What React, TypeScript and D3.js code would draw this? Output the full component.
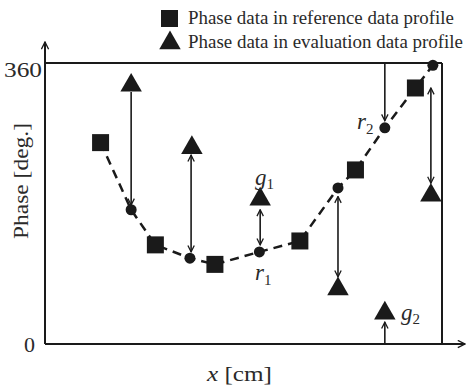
import * as d3 from "d3";
import React from "react";

// reference data profile (squares)
const refX = [1.4, 2.78, 4.28, 6.42, 7.82, 9.33];
const refPhase = [258, 127, 102, 132, 223, 328];
// interpolated points on the reference profile (circles)
const interpX = [2.17, 3.65, 5.4, 7.38, 8.56, 9.77];
const interpPhase = [172, 110, 118, 200, 277, 357];
// evaluation data profile (triangles)
const evalX = [2.17, 3.7, 5.42, 7.38, 8.56, 9.72];
const evalPhase = [334, 254, 188, 73, 42, 193];

// distance arrows: x, phase from, phase to, heads
const arrowX = [2.17, 3.68, 5.42, 7.38, 8.56, 8.56, 9.72];
const arrowFrom = [323, 242, 172, 189, 360, 0, 328];
const arrowTo = [178, 118, 127, 86, 286, 28, 206];
const arrowBoth = [false, true, true, true, false, false, true];

const legendLabels = ["Phase data in reference data profile", "Phase data in evaluation data profile"];
const legendWidths = [266, 275];

const W = 467;
const H = 387;
const margin = { top: 63, right: 25, bottom: 43, left: 45 };

const App: React.FC = () => {
  const x = d3.scaleLinear().domain([0, 10]).range([margin.left, W - margin.right]);
  const y = d3.scaleLinear().domain([0, 360]).range([H - margin.bottom, margin.top]);

  const merged = [
    ...refX.map((v, i) => ({ x: v, p: refPhase[i] })),
    ...interpX.map((v, i) => ({ x: v, p: interpPhase[i] })),
  ].sort((a, b) => a.x - b.x);

  const line = d3
    .line<{ x: number; p: number }>()
    .x((d) => x(d.x))
    .y((d) => y(d.p));

  const tri = d3.symbol().type(d3.symbolTriangle).size(200)();
  const x0 = x(0);
  const x1 = x(10);
  const y0 = y(0);
  const y1 = y(360);
  const font = "'Liberation Serif', 'Times New Roman', serif";
  const ink = "#1a1a1a";
  const txt = "#2a2a2a";

  return (
    <svg width={W} height={H} style={{ position: "absolute", left: 0, top: 0, background: "#fff" }} fontFamily={font}>
      <defs>
        <marker id="ah" viewBox="0 0 10 10" refX="9" refY="5" markerWidth="8" markerHeight="8" orient="auto-start-reverse" markerUnits="userSpaceOnUse">
          <path d="M1,1 L9,5 L1,9" fill="none" stroke={ink} strokeWidth="1.6" />
        </marker>
        <marker id="axh" viewBox="0 0 10 10" refX="9" refY="5" markerWidth="9" markerHeight="9" orient="auto" markerUnits="userSpaceOnUse">
          <path d="M1,1 L9,5 L1,9" fill="none" stroke={ink} strokeWidth="1.5" />
        </marker>
      </defs>

      {/* axes and frame */}
      <line x1={x0} y1={y0} x2={x0} y2={42} stroke={ink} strokeWidth={2} markerEnd="url(#axh)" />
      <line x1={x0} y1={y0} x2={465} y2={y0} stroke={ink} strokeWidth={2} markerEnd="url(#axh)" />
      <line x1={x0} y1={y1} x2={x1} y2={y1} stroke={ink} strokeWidth={2} />
      <line x1={x1} y1={y1} x2={x1} y2={y0} stroke={ink} strokeWidth={2} />

      <text x={42} y={y1 + 14} textAnchor="end" fontSize={22} textLength={38} lengthAdjust="spacingAndGlyphs" fill={txt}>360</text>
      <text x={35} y={y0 + 8} textAnchor="end" fontSize={22} fill={txt}>0</text>
      <text transform={`translate(28, 181) rotate(-90)`} textAnchor="middle" fontSize={21} textLength={116} lengthAdjust="spacingAndGlyphs" fill={txt}>
        Phase [deg.]
      </text>
      <text x={239.5} y={381} textAnchor="middle" fontSize={22} textLength={65} lengthAdjust="spacingAndGlyphs" fill={txt}>
        <tspan fontStyle="italic">x</tspan> [cm]
      </text>

      {/* dashed reference profile */}
      <path d={line(merged) ?? ""} fill="none" stroke={ink} strokeWidth={2.5} strokeDasharray="9,6" />

      {/* arrows */}
      {arrowX.map((v, i) => (
        <line
          key={`a${i}`}
          x1={x(v)}
          y1={y(arrowFrom[i])}
          x2={x(v)}
          y2={y(arrowTo[i])}
          stroke={ink}
          strokeWidth={1.6}
          markerEnd="url(#ah)"
          markerStart={arrowBoth[i] ? "url(#ah)" : undefined}
        />
      ))}

      {refX.map((v, i) => (
        <rect key={`s${i}`} x={x(v) - 8.5} y={y(refPhase[i]) - 8.5} width={17} height={17} fill={ink} />
      ))}
      {interpX.map((v, i) => (
        <circle key={`c${i}`} cx={x(v)} cy={y(interpPhase[i])} r={5.5} fill={ink} />
      ))}
      {evalX.map((v, i) => (
        <path key={`t${i}`} d={tri ?? ""} transform={`translate(${x(v)}, ${y(evalPhase[i]) + 2})`} fill={ink} />
      ))}

      {/* point labels */}
      <text x={255} y={185} fontSize={23} fontStyle="italic" fill={txt}>g<tspan fontSize={15} dy={4} fontStyle="normal">1</tspan></text>
      <text x={255} y={280} fontSize={23} fontStyle="italic" fill={txt}>r<tspan fontSize={15} dy={5} fontStyle="normal">1</tspan></text>
      <text x={357} y={129} fontSize={23} fontStyle="italic" fill={txt}>r<tspan fontSize={15} dy={5} fontStyle="normal">2</tspan></text>
      <text x={401} y={320} fontSize={23} fontStyle="italic" fill={txt}>g<tspan fontSize={15} dy={4} fontStyle="normal">2</tspan></text>

      {/* legend */}
      <rect x={161} y={10} width={17} height={17} fill={ink} />
      <path d={tri ?? ""} transform="translate(170, 43)" fill={ink} />
      {legendLabels.map((t, i) => (
        <text key={t} x={188} y={24 + i * 24} fontSize={18} textLength={legendWidths[i]} lengthAdjust="spacingAndGlyphs" fill={txt}>{t}</text>
      ))}
    </svg>
  );
};

export default App;
